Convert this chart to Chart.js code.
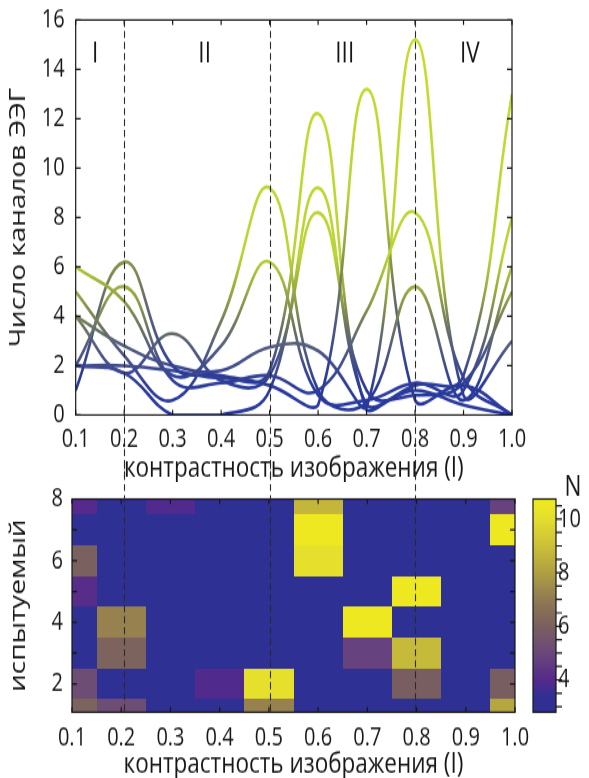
<!DOCTYPE html>
<html>
<head>
<meta charset="utf-8">
<script src="https://cdn.jsdelivr.net/npm/chart.js@4.4.1/dist/chart.umd.min.js"></script>
<style>
  body { margin: 0; background: #fff; }
  #wrap { position: relative; width: 589px; height: 778px; }
  /* the figure is drawn on shorter canvases and stretched vertically */
  #channels { position: absolute; left: 0; top: 0; width: 589px; height: 482px; }
  #subjects { position: absolute; left: 0; top: 462px; width: 589px; height: 316px; }
</style>
</head>
<body>
<div id="wrap">
  <canvas id="channels" width="589" height="371" style="width:589px;height:482px"></canvas>
  <canvas id="subjects" width="589" height="243" style="width:589px;height:316px"></canvas>
</div>
<script>
// contrast levels (x) shared by both panels
const contrast = [0.1, 0.2, 0.3, 0.4, 0.5, 0.6, 0.7, 0.8, 0.9, 1.0];

// number of EEG channels per subject at each contrast level
const subj1 = [6.0, 4.6, 1.6, 2.8, 6.2, 0.8, 0.6, 1.3, 1.0, 8.0];
const subj2 = [5.0, 2.4, 0.6, 3.8, 9.2, 1.0, 0.5, 5.2, 0.6, 6.0];
const subj3 = [2.0, 5.2, 1.4, 1.3, 1.6, 1.0, 4.2, 8.2, 1.5, 0.0];
const subj4 = [1.0, 6.2, 2.0, 1.6, 1.2, 0.4, 13.2, 0.6, 1.2, 0.0];
const subj5 = [4.0, 2.8, 2.0, 1.8, 2.75, 2.6, 0.3, 15.2, 0.8, 3.0];
const subj6 = [2.0, 1.7, 0.0, 0.0, 1.0, 9.2, 0.4, 1.0, 0.4, 0.0];
const subj7 = [2.0, 2.0, 1.8, 1.5, 1.8, 12.2, 0.2, 1.2, 1.6, 13.0];
const subj8 = [4.0, 1.7, 3.3, 1.4, 1.6, 8.2, 1.0, 0.8, 1.3, 5.0];
const channelSeries = [subj1, subj2, subj3, subj4, subj5, subj6, subj7, subj8];

// N per subject (rows 1..8) and contrast level
const nSubj1 = [6.1, 5.2, 3.0, 3.0, 7.2, 3.0, 3.0, 3.0, 3.0, 8.2];
const nSubj2 = [5.2, 3.0, 3.0, 3.9, 10.1, 3.0, 3.0, 5.9, 3.0, 5.9];
const nSubj3 = [3.0, 6.1, 3.0, 3.0, 3.0, 3.0, 4.8, 8.8, 3.0, 3.0];
const nSubj4 = [3.0, 7.2, 3.0, 3.0, 3.0, 3.0, 10.6, 3.0, 3.0, 3.0];
const nSubj5 = [4.1, 3.0, 3.0, 3.0, 3.0, 3.0, 3.0, 10.6, 3.0, 3.0];
const nSubj6 = [6.0, 3.0, 3.0, 3.0, 3.0, 10.1, 3.0, 3.0, 3.0, 3.0];
const nSubj7 = [3.0, 3.0, 3.0, 3.0, 3.0, 10.6, 3.0, 3.0, 3.0, 10.6];
const nSubj8 = [4.0, 3.0, 3.9, 3.0, 3.0, 8.7, 3.0, 3.0, 3.0, 4.8];
const nRows = [nSubj1, nSubj2, nSubj3, nSubj4, nSubj5, nSubj6, nSubj7, nSubj8];

const channelTicks = [0, 2, 4, 6, 8, 10, 12, 14, 16];
const subjectTicks = [2, 4, 6, 8];
const nTicks = [4, 6, 8, 10];
const stageBounds = [0.2, 0.5, 0.8];
const stageNames = ['I', 'II', 'III', 'IV'];

// ---- styling ----
const FONT = '"Open Sans", "Noto Sans", "DejaVu Sans", sans-serif';
const tickFont = { family: FONT, size: 20 };
const titleFont = { family: FONT, size: 22.5, lineHeight: 1.0 };
const sideTitleFont = { family: FONT, size: 21.5, lineHeight: 1.0 };
const INK = '#161616';
const SQUASH = 371 / 482;   // canvas height / displayed height
const BOTTOM_TOP = 462;     // page offset of the lower canvas

// line colour follows the height of the curve
const lineStops = [[0, '#26389e'], [1.2, '#2a3b9a'], [2.6, '#4f5884'], [3.6, '#6c765e'], [5, '#97a940'], [6.5, '#bcd434'], [16, '#c8de2c']];
const lineWarm = [1, 1, 1, 1.4, 1, 1, 1, 1];

// colormap used for N
const nStops = [
  [2.79, [46, 49, 146]], [3.4, [50, 47, 148]], [4.0, [86, 42, 140]], [5.0, [106, 72, 122]],
  [6.0, [122, 96, 94]], [7.0, [145, 122, 82]], [8.0, [176, 160, 66]], [9.0, [204, 192, 56]],
  [10.0, [228, 222, 46]], [10.75, [240, 235, 30]]
];
const N_MIN = 2.79, N_MAX = 10.75;

function nColor(v) {
  v = Math.max(N_MIN, Math.min(N_MAX, v));
  for (let i = 1; i < nStops.length; i++) {
    const [v1, c1] = nStops[i];
    const [v0, c0] = nStops[i - 1];
    if (v <= v1) {
      const t = (v - v0) / (v1 - v0);
      const c = c0.map((a, k) => Math.round(a + (c1[k] - a) * t));
      return `rgb(${c[0]},${c[1]},${c[2]})`;
    }
  }
  return 'rgb(240,235,30)';
}

function channelGradient(chart, warm) {
  if (!chart.chartArea) return '#2b3b98';
  const y = chart.scales.y;
  const g = chart.ctx.createLinearGradient(0, y.getPixelForValue(0), 0, y.getPixelForValue(16));
  lineStops.forEach(([v, c]) => g.addColorStop(Math.min(1, v * warm / 16), c));
  return g;
}

// frame with inward tick marks on all four sides
const boxTicks = {
  id: 'boxTicks',
  afterDraw(chart, args, opts) {
    const { ctx, chartArea: a, scales } = chart;
    const lx = 5 * SQUASH, ly = 5;
    ctx.save();
    ctx.strokeStyle = INK;
    ctx.lineWidth = 1.2;
    ctx.strokeRect(a.left, a.top, a.right - a.left, a.bottom - a.top);
    ctx.beginPath();
    opts.x.forEach(v => {
      const px = scales.x.getPixelForValue(v);
      ctx.moveTo(px, a.bottom); ctx.lineTo(px, a.bottom - lx);
      ctx.moveTo(px, a.top); ctx.lineTo(px, a.top + lx);
    });
    opts.y.forEach(v => {
      const py = scales.y.getPixelForValue(v);
      ctx.moveTo(a.left, py); ctx.lineTo(a.left + ly, py);
      ctx.moveTo(a.right, py); ctx.lineTo(a.right - ly, py);
    });
    ctx.stroke();
    ctx.restore();
  }
};

// dashed boundaries between stages, running through both panels
const stageLines = {
  id: 'stageLines',
  afterDraw(chart, args, opts) {
    const { ctx, chartArea: a } = chart;
    const scale = opts.scale(chart);
    const y0 = opts.down ? a.top : 0;
    const y1 = opts.down ? chart.height : a.bottom;
    ctx.save();
    ctx.setLineDash([7 * SQUASH, 4 * SQUASH]);
    ctx.strokeStyle = '#2a2a2a';
    ctx.lineWidth = 1.1;
    stageBounds.forEach(v => {
      const px = Math.round(scale.getPixelForValue(v)) + 0.5;
      ctx.beginPath();
      ctx.moveTo(px, y0);
      ctx.lineTo(px, y1);
      ctx.stroke();
    });
    ctx.restore();
  }
};

const stageLabels = {
  id: 'stageLabels',
  afterDatasetsDraw(chart, args, opts) {
    const { ctx, scales: { x, y } } = chart;
    ctx.save();
    ctx.font = `${titleFont.size}px ${FONT}`;
    ctx.fillStyle = INK;
    ctx.textAlign = 'center';
    ctx.textBaseline = 'middle';
    stageNames.forEach((name, i) => {
      ctx.fillText(name, x.getPixelForValue(opts.at[i]), y.getPixelForValue(opts.level));
    });
    ctx.restore();
  }
};

// one filled cell per subject and contrast level, snapped to whole pixels
const heatCells = {
  id: 'heatCells',
  beforeDatasetsDraw(chart) {
    const { ctx, chartArea: a, scales: { x, y } } = chart;
    ctx.save();
    ctx.beginPath();
    ctx.rect(a.left, a.top, a.right - a.left, a.bottom - a.top);
    ctx.clip();
    nRows.forEach((row, r) => {
      const top = Math.round(y.getPixelForValue(r + 1.5));
      const bottom = Math.round(y.getPixelForValue(r + 0.5));
      row.forEach((n, c) => {
        const left = Math.round(x.getPixelForValue(contrast[c] - 0.05));
        const right = Math.round(x.getPixelForValue(contrast[c] + 0.05));
        ctx.fillStyle = nColor(n);
        ctx.fillRect(left, top, right - left, bottom - top);
      });
    });
    ctx.restore();
  }
};

const colorBar = {
  id: 'colorBar',
  afterDraw(chart) {
    const { ctx, scales: { cb } } = chart;
    const left = cb.left + 18, width = 23;
    const top = cb.getPixelForValue(N_MAX), bottom = cb.getPixelForValue(N_MIN);
    const g = ctx.createLinearGradient(0, bottom, 0, top);
    nStops.forEach(([v, c]) => g.addColorStop((v - N_MIN) / (N_MAX - N_MIN), `rgb(${c[0]},${c[1]},${c[2]})`));
    ctx.save();
    ctx.fillStyle = g;
    ctx.fillRect(left, top, width, bottom - top);
    ctx.strokeStyle = INK;
    ctx.lineWidth = 1.2;
    ctx.strokeRect(left, top, width, bottom - top);
    ctx.beginPath();
    for (let v = 3; v <= 10.5; v += 0.5) {
      const py = cb.getPixelForValue(v);
      ctx.moveTo(left + width, py);
      ctx.lineTo(left + width + 6, py);
    }
    ctx.stroke();
    ctx.font = `${titleFont.size}px ${FONT}`;
    ctx.fillStyle = INK;
    ctx.textAlign = 'center';
    ctx.textBaseline = 'middle';
    ctx.fillText('N', left + width + 17, top - 12 * SQUASH);
    ctx.restore();
  }
};

const fixedTicks = list => scale => { scale.ticks = list.map(v => ({ value: v })); };

const channelChart = new Chart(document.getElementById('channels'), {
  type: 'line',
  data: {
    datasets: channelSeries.map((vals, i) => ({
      data: contrast.map((x, j) => ({ x, y: vals[j] })),
      borderColor: ctx => channelGradient(ctx.chart, lineWarm[i]),
      borderWidth: 2.6,
      pointRadius: 0,
      tension: 0.42,
      fill: false
    }))
  },
  options: {
    responsive: false,
    animation: false,
    layout: { padding: { left: 0, right: 77, top: 20 * SQUASH, bottom: 0 } },
    plugins: {
      legend: { display: false },
      tooltip: { enabled: false },
      boxTicks: { x: contrast, y: channelTicks },
      stageLines: { scale: c => c.scales.x, down: true },
      stageLabels: { at: [0.14, 0.366, 0.655, 0.913], level: 14.6 }
    },
    scales: {
      x: {
        type: 'linear', min: 0.1, max: 1.0,
        afterBuildTicks: fixedTicks(contrast),
        afterFit: s => { s.height = 371 - 415 * SQUASH; },
        grid: { display: false, drawTicks: false }, border: { display: false },
        ticks: { color: INK, font: tickFont, padding: 7, maxRotation: 0, autoSkip: false, callback: v => v.toFixed(1) },
        title: { display: true, text: 'контрастность изображения (I)', color: INK, font: titleFont, padding: { top: 0, bottom: -1 } }
      },
      y: {
        type: 'linear', min: 0, max: 16,
        afterBuildTicks: fixedTicks(channelTicks),
        afterFit: s => { s.width = 75.7; },
        grid: { display: false, drawTicks: true, tickLength: 11 }, border: { display: false },
        ticks: { color: INK, font: tickFont, padding: 0 },
        title: { display: true, text: 'Число каналов ЭЭГ', color: INK, font: sideTitleFont, padding: { top: 8, bottom: 0 } }
      }
    }
  },
  plugins: [boxTicks, stageLines, stageLabels]
});

const subjectChart = new Chart(document.getElementById('subjects'), {
  type: 'scatter',
  data: { datasets: [{ data: [], pointRadius: 0 }] },
  options: {
    responsive: false,
    animation: false,
    layout: { padding: { left: 0, right: 0, top: (499 - BOTTOM_TOP) * SQUASH, bottom: 0 } },
    plugins: {
      legend: { display: false },
      tooltip: { enabled: false },
      boxTicks: { x: contrast, y: [2, 3, 4, 5, 6, 7] },
      stageLines: { scale: () => channelChart.scales.x, down: false }
    },
    scales: {
      x: {
        type: 'linear', min: 0.1, max: 1.0,
        afterBuildTicks: fixedTicks(contrast),
        afterFit: s => { s.height = 243 - (712 - BOTTOM_TOP) * SQUASH; },
        grid: { display: false, drawTicks: false }, border: { display: false },
        ticks: { color: INK, font: tickFont, padding: 8, maxRotation: 0, autoSkip: false, callback: v => v.toFixed(1) },
        title: { display: true, text: 'контрастность изображения (I)', color: INK, font: titleFont, padding: { top: 0, bottom: -1 } }
      },
      y: {
        type: 'linear', min: 1.08, max: 8,
        afterBuildTicks: fixedTicks(subjectTicks),
        afterFit: s => { s.width = 72; },
        grid: { display: false, drawTicks: true, tickLength: 9 }, border: { display: false },
        ticks: { color: INK, font: tickFont, padding: 0 },
        title: { display: true, text: 'испытуемый', color: INK, font: sideTitleFont, padding: { top: 8, bottom: 0 } }
      },
      cb: {
        type: 'linear', position: 'right', min: N_MIN, max: N_MAX,
        afterBuildTicks: fixedTicks(nTicks),
        afterFit: s => { s.width = 74; },
        grid: { display: false, drawTicks: true, tickLength: 43 }, border: { display: false },
        ticks: { color: INK, font: tickFont, padding: 0 }
      }
    }
  },
  plugins: [heatCells, boxTicks, stageLines, colorBar]
});
</script>
</body>
</html>
